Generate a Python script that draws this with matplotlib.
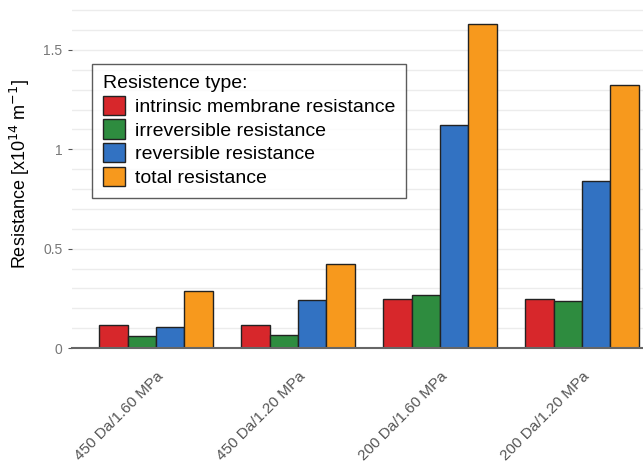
import numpy as np
import matplotlib.pyplot as plt

plt.rcParams['font.family'] = ['Liberation Sans', 'DejaVu Sans']

# Resistance values in units of 1e14 1/m
conditions = ['450 Da/1.60 MPa', '450 Da/1.20 MPa', '200 Da/1.60 MPa', '200 Da/1.20 MPa']
intrinsic = [0.116, 0.116, 0.245, 0.245]
irreversible = [0.062, 0.065, 0.265, 0.238]
reversible = [0.104, 0.241, 1.12, 0.839]
total = [0.285, 0.424, 1.631, 1.322]

series = [
    ('intrinsic membrane resistance', intrinsic, '#d7272b'),
    ('irreversible resistance', irreversible, '#2e8c3f'),
    ('reversible resistance', reversible, '#3272c2'),
    ('total resistance', total, '#f7991d'),
]

fig = plt.figure(figsize=(6.43, 4.65), dpi=100)
ax = fig.add_axes([0.112, 0.2516, 0.888, 0.748])

x = np.arange(len(conditions))
w = 0.2
for i, (name, vals, col) in enumerate(series):
    ax.bar(x + (i - 1.5) * w, vals, width=w, color=col, edgecolor='#222222',
           linewidth=1.0, label=name, zorder=3)

ax.set_xlim(-0.592, 3.43)
ax.set_ylim(0, 1.75)
ax.set_yticks([0, 0.5, 1, 1.5])
ax.set_yticklabels(['0', '0.5', '1', '1.5'])
ax.set_yticks(np.arange(0, 1.75, 0.1), minor=True)
ax.grid(axis='y', which='both', color='#ececec', linewidth=1.0, zorder=0)
ax.tick_params(axis='y', which='minor', length=0)
ax.tick_params(axis='y', which='major', length=3, color='#555555', colors='#777777',
               labelsize=10, pad=4)

ax.set_xticks(x)
ax.set_xticklabels(conditions, rotation=45, ha='right', va='top',
                   rotation_mode='anchor')
ax.tick_params(axis='x', length=0, colors='#555555', labelsize=11, pad=15.5)

for s in ['top', 'right', 'left']:
    ax.spines[s].set_visible(False)
ax.spines['bottom'].set_color('#666666')
ax.spines['bottom'].set_linewidth(1.5)
ax.spines['bottom'].set_zorder(4)

ax.set_ylabel(r'Resistance [x10$^{14}$ m$^{-1}$]', fontsize=13, labelpad=8)

leg = ax.legend(title='Resistence type:', loc='upper left',
                bbox_to_anchor=(0.0185, 0.8435), fontsize=14, title_fontsize=14,
                frameon=True, fancybox=False, edgecolor='#333333',
                handlelength=1.15, handleheight=1.15, handletextpad=0.5,
                labelspacing=0.18, borderpad=0.55, alignment='left')
leg.get_frame().set_linewidth(1.0)

fig.savefig('out.png', dpi=100)
